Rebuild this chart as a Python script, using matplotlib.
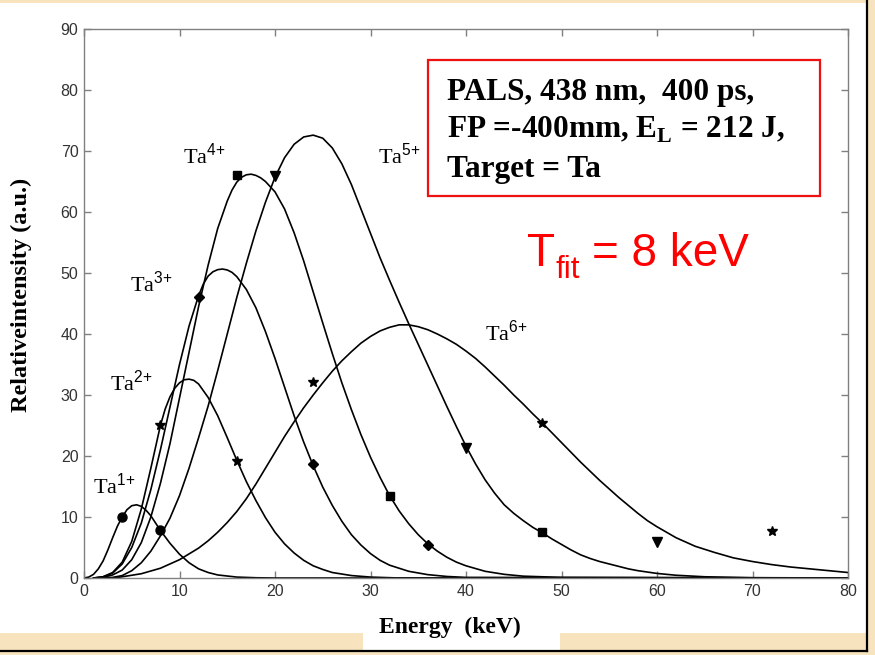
import matplotlib
matplotlib.use("Agg")
import matplotlib.pyplot as plt
from matplotlib.patches import Rectangle
from matplotlib.lines import Line2D

plt.rcParams['mathtext.fontset'] = 'custom'
plt.rcParams['mathtext.rm'] = 'Liberation Serif'
plt.rcParams['mathtext.sf'] = 'Liberation Sans'
plt.rcParams['mathtext.bf'] = 'Liberation Serif:bold'
plt.rcParams['font.family'] = 'Liberation Sans'

# Fitted ion energy distributions (energy in keV, intensity in a.u.)
ta1_e = [0, 0.5, 1, 1.5, 2, 2.5, 3, 3.5, 4, 4.5, 5, 5.5, 6, 6.5, 7, 7.5, 8, 9, 10,
         11, 12, 13, 14, 16, 18, 20, 80]
ta1_i = [0, 0.15, 0.6, 1.5, 2.8, 4.6, 6.6, 8.5, 10.0, 11.2, 11.85, 12.0, 11.75,
         11.1, 10.2, 9.0, 7.8, 5.7, 3.9, 2.5, 1.5, 0.9, 0.5, 0.15, 0.04, 0, 0]

ta2_e = [1, 2, 3, 4, 5, 6, 7, 8, 8.5, 9, 9.5, 10, 10.5, 11, 11.5, 12, 13, 14, 15,
         16, 17, 18, 19, 20, 21, 22, 23, 24, 25, 26, 28, 30, 33, 80]
ta2_i = [0, 0.2, 0.9, 2.6, 6.0, 11.3, 18.0, 25.0, 27.7, 29.7, 31.1, 32.0, 32.5,
         32.6, 32.4, 31.8, 29.6, 26.6, 23.0, 19.3, 15.8, 12.7, 9.9, 7.5, 5.6,
         4.1, 2.9, 2.0, 1.4, 0.9, 0.4, 0.15, 0, 0]

ta3_e = [1, 2, 3, 4, 5, 6, 7, 8, 9, 10, 11, 12, 12.5, 13, 13.5, 14, 14.5, 15,
         15.5, 16, 17, 18, 19, 20, 21, 22, 23, 24, 25, 26, 27, 28, 29, 30, 31,
         32, 34, 36, 38, 40, 80]
ta3_i = [0, 0.2, 0.8, 2.3, 5.0, 9.0, 14.5, 21.0, 28.0, 35.0, 41.3, 46.3, 48.2,
         49.5, 50.2, 50.55, 50.65, 50.5, 50.1, 49.4, 47.3, 44.3, 40.4, 36.0,
         31.3, 26.6, 22.3, 18.4, 14.9, 11.9, 9.3, 7.1, 5.4, 4.0, 2.9, 2.1, 1.1,
         0.55, 0.25, 0.1, 0]

ta4_e = [1, 2, 3, 4, 5, 6, 7, 8, 9, 10, 11, 12, 13, 14, 15, 15.5, 16, 16.5, 17,
         17.5, 18, 18.5, 19, 20, 21, 22, 23, 24, 25, 26, 27, 28, 29, 30, 31, 32,
         33, 34, 35, 36, 37, 38, 39, 40, 42, 44, 46, 50, 80]
ta4_i = [0, 0.1, 0.5, 1.3, 3.0, 5.8, 10.0, 15.5, 22.0, 29.5, 37.0, 44.5, 51.3,
         57.3, 61.8, 63.6, 64.9, 65.7, 66.1, 66.2, 66.0, 65.6, 65.0, 63.3, 60.5,
         56.6, 52.0, 46.9, 41.8, 36.8, 32.0, 27.6, 23.5, 19.8, 16.5, 13.5, 11.0,
         8.9, 7.1, 5.6, 4.4, 3.4, 2.6, 2.0, 1.1, 0.6, 0.3, 0.1, 0]

ta5_e = [2, 3, 4, 5, 6, 7, 8, 9, 10, 11, 12, 13, 14, 15, 16, 17, 18, 19, 20, 21,
         22, 23, 24, 25, 26, 27, 28, 29, 30, 31, 32, 33, 34, 35, 36, 37, 38, 39,
         40, 41, 42, 43, 44, 45, 46, 47, 48, 49, 50, 51, 52, 53, 54, 55, 56, 57,
         58, 60, 62, 65, 70, 80]
ta5_i = [0, 0.1, 0.4, 1.2, 2.5, 4.4, 6.9, 9.8, 13.5, 18.0, 23.0, 28.2, 34.0,
         40.0, 46.0, 51.6, 56.9, 61.6, 65.7, 68.9, 71.1, 72.3, 72.6, 72.1, 70.5,
         67.9, 64.5, 60.5, 56.5, 52.5, 48.8, 45.2, 41.7, 38.3, 34.9, 31.5, 28.1,
         24.8, 21.6, 18.7, 16.1, 13.9, 12.0, 10.6, 9.4, 8.3, 7.4, 6.4, 5.5, 4.6,
         3.8, 3.2, 2.7, 2.3, 1.9, 1.5, 1.2, 0.75, 0.45, 0.2, 0.05, 0]

ta6_e = [3, 4, 6, 8, 10, 12, 13, 14, 15, 16, 17, 18, 19, 20, 21, 22, 23, 24, 25,
         26, 27, 28, 29, 30, 31, 32, 33, 34, 35, 36, 37, 38, 39, 40, 41, 42, 43,
         44, 45, 46, 47, 48, 49, 50, 51, 52, 53, 54, 55, 56, 57, 58, 59, 60, 62,
         64, 66, 68, 70, 72, 74, 76, 78, 80]
ta6_i = [0, 0.2, 0.7, 1.6, 3.0, 4.9, 6.1, 7.5, 9.1, 10.9, 13.0, 15.4, 18.0,
         20.6, 23.2, 25.6, 27.9, 30.0, 32.0, 33.9, 35.6, 37.1, 38.5, 39.6, 40.5,
         41.1, 41.5, 41.5, 41.2, 40.7, 40.0, 39.2, 38.3, 37.2, 36.0, 34.6, 33.1,
         31.6, 30.0, 28.5, 26.9, 25.4, 23.8, 22.2, 20.6, 19.0, 17.5, 16.0, 14.6,
         13.2, 11.9, 10.6, 9.4, 8.4, 6.6, 5.2, 4.2, 3.3, 2.7, 2.2, 1.8, 1.5, 1.2,
         0.9]

# Measured points
ta1_pe, ta1_pi = [4, 8], [10.0, 7.8]
ta2_pe, ta2_pi = [8, 16], [25.1, 19.2]
ta3_pe, ta3_pi = [12, 24, 36], [46.0, 18.7, 5.4]
ta4_pe, ta4_pi = [16, 32, 48], [66.1, 13.5, 7.5]
ta5_pe, ta5_pi = [20, 40, 60], [65.9, 21.3, 5.9]
ta6_pe, ta6_pi = [24, 48, 72], [32.1, 25.4, 7.7]

labels = ['1', '2', '3', '4', '5', '6']
label_pos = [(0.95, 13.8), (2.7, 30.8), (4.8, 46.9), (10.4, 68.0), (30.8, 68.0), (42.0, 39.0)]

curves = [(ta1_e, ta1_i), (ta2_e, ta2_i), (ta3_e, ta3_i),
          (ta4_e, ta4_i), (ta5_e, ta5_i), (ta6_e, ta6_i)]
points = [(ta1_pe, ta1_pi, 'o', 6.5), (ta2_pe, ta2_pi, '*', 7),
          (ta3_pe, ta3_pi, 'D', 5), (ta4_pe, ta4_pi, 's', 5.5),
          (ta5_pe, ta5_pi, 'v', 7), (ta6_pe, ta6_pi, '*', 7)]

W, H = 875, 655
fig = plt.figure(figsize=(W / 100, H / 100), dpi=100)
fig.patch.set_facecolor('#f7e4bf')

# white slide panel with dark frame lines
fig.patches.append(Rectangle((0, 22 / H), 866 / W, 630 / H, transform=fig.transFigure,
                             facecolor='white', edgecolor='none', zorder=-2))
fig.patches.append(Rectangle((363 / W, 5 / H), 197 / W, 20 / H, transform=fig.transFigure,
                             facecolor='white', edgecolor='none', zorder=-2))
fig.lines.append(Line2D([867 / W, 867 / W], [4 / H, 1], transform=fig.transFigure,
                        color='black', lw=1.6, zorder=-1))
fig.lines.append(Line2D([0, 867 / W], [4 / H, 4 / H], transform=fig.transFigure,
                        color='black', lw=1.6, zorder=-1))

ax = fig.add_axes([84 / W, 77 / H, 764 / W, 549 / H])
ax.set_facecolor('white')

for e, i in curves:
    ax.plot(e, i, color='black', lw=1.2)
for e, i, m, ms in points:
    ax.plot(e, i, linestyle='none', marker=m, markersize=ms, color='black')

for lab, (x, y) in zip(labels, label_pos):
    ax.text(x, y, r'Ta$^{\mathsf{' + lab + '{+}}}$', family='Liberation Serif',
            fontsize=16, va='baseline', ha='left')

ax.set_xlim(0, 80)
ax.set_ylim(0, 90)
ax.set_xticks(range(0, 81, 10))
ax.set_yticks(range(0, 91, 10))
ax.tick_params(direction='in', top=True, right=True, length=5, width=1,
               color='#808080', labelsize=11.5, labelcolor='#333333', pad=4)
for s in ax.spines.values():
    s.set_color('#808080')
    s.set_linewidth(1)

fig.text(450 / W, 22 / H, 'Energy  (keV)', family='Liberation Serif', weight='bold',
         fontsize=17, ha='center', va='baseline')
fig.text(21 / W, 360 / H, 'Relativeintensity (a.u.)', family='Liberation Serif',
         weight='bold', fontsize=17.5, rotation=90, ha='center', va='center')

# parameter box
fig.patches.append(Rectangle((428 / W, 459 / H), 392 / W, 136 / H, transform=fig.transFigure,
                             facecolor='white', edgecolor='#ee1111', lw=1.6, zorder=3))
box_lines = ['PALS, 438 nm,  400 ps,',
             r'FP =-400mm, E$_{\mathbf{L}}$ = 212 J,',
             'Target = Ta']
for txt, yb in zip(box_lines, [100, 138, 177]):
    fig.text(447 / W, (H - yb) / H, txt, family='Liberation Serif', weight='bold',
             fontsize=22.5, ha='left', va='baseline', zorder=4)

# fitted temperature
fig.text(527 / W, (H - 266) / H, 'T', color='#ff0000', fontsize=33,
         ha='left', va='baseline')
fig.text(556 / W, (H - 278) / H, 'fit', color='#ff0000', fontsize=22.5,
         ha='left', va='baseline')
fig.text(592 / W, (H - 266) / H, '= 8 keV', color='#ff0000', fontsize=33,
         ha='left', va='baseline')

fig.savefig('out.png', dpi=100, facecolor=fig.get_facecolor())
